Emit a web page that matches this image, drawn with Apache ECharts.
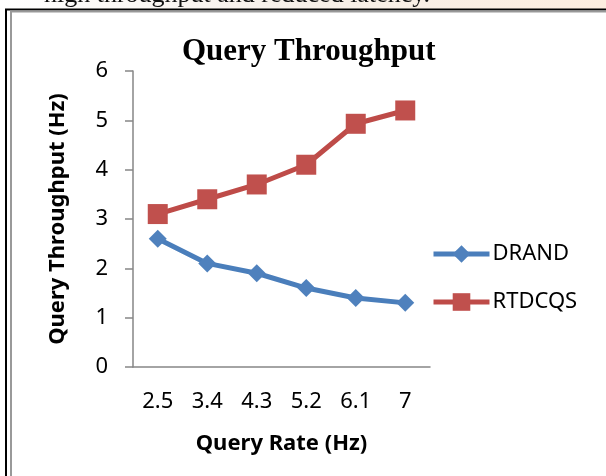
<!DOCTYPE html>
<html>
<head>
<meta charset="utf-8">
<script src="https://cdn.jsdelivr.net/npm/echarts@6/dist/echarts.min.js"></script>
<style>
  html, body { margin: 0; padding: 0; background: #fff; }
  #chart { width: 606px; height: 476px; }
</style>
</head>
<body>
<div id="chart"></div>
<script>
const categories = ['2.5', '3.4', '4.3', '5.2', '6.1', '7']
const drand = [2.6, 2.1, 1.9, 1.6, 1.4, 1.3]
const rtdcqs = [3.1, 3.4, 3.7, 4.1, 4.93, 5.2]

const labelFont = 'Noto Sans'
const myChart = echarts.init(document.getElementById('chart'))
myChart.setOption({
  animation: false,
  backgroundColor: '#fff',
  // page fragment above the chart box
  graphic: [
    {
      type: 'rect',
      z: -10,
      shape: { x: 0, y: 0, width: 606, height: 12 },
      style: {
        fill: {
          type: 'linear', x: 0, y: 0, x2: 1, y2: 0,
          colorStops: [
            { offset: 0, color: '#ffffff' },
            { offset: 0.5, color: '#f6efe8' },
            { offset: 1, color: '#fdeee0' },
          ],
        },
      },
    },
    {
      type: 'text',
      z: -9,
      left: 44,
      top: -18,
      style: {
        text: 'high throughput and reduced latency.',
        font: '26px "Liberation Serif", serif',
        fill: '#111',
      },
    },
    {
      type: 'rect',
      z: -8,
      shape: { x: 0, y: 10, width: 606, height: 466 },
      style: { fill: '#fff' },
    },
    // double frame line
    {
      type: 'polyline',
      z: -7,
      shape: { points: [[6, 476], [6, 9.5], [606, 9.5]] },
      style: { stroke: '#000', lineWidth: 2, fill: null },
    },
    {
      type: 'polyline',
      z: -7,
      shape: { points: [[11, 476], [11, 11.5], [606, 11.5]] },
      style: { stroke: '#999', lineWidth: 2, fill: null },
    },
  ],
  title: {
    text: 'Query Throughput',
    left: 182,
    top: 36,
    padding: 0,
    textStyle: {
      fontFamily: '"Liberation Serif", serif',
      fontWeight: 'bold',
      fontSize: 31,
      color: '#000',
    },
  },
  legend: {
    orient: 'vertical',
    left: 426,
    top: 238,
    itemWidth: 56,
    itemHeight: 22,
    itemGap: 26,
    lineStyle: { width: 5 },
    textStyle: { fontFamily: labelFont, fontSize: 22, color: '#000', padding: [0, 0, 0, -2] },
    data: ['DRAND', 'RTDCQS'],
  },
  grid: { left: 133, right: 176, top: 71, bottom: 109 },
  xAxis: {
    type: 'category',
    data: categories,
    boundaryGap: true,
    name: 'Query Rate (Hz)',
    nameLocation: 'middle',
    nameGap: 66,
    nameTextStyle: { fontFamily: labelFont, fontWeight: 'bold', fontSize: 22, color: '#000' },
    axisLine: { lineStyle: { color: '#868686', width: 1.5 } },
    axisTick: { show: false },
    axisLabel: { margin: 24, fontFamily: labelFont, fontSize: 22, color: '#000' },
  },
  yAxis: {
    type: 'value',
    min: 0,
    max: 6,
    interval: 1,
    name: 'Query Throughput (Hz)',
    nameLocation: 'middle',
    nameGap: 64,
    nameTextStyle: { fontFamily: labelFont, fontWeight: 'bold', fontSize: 22, color: '#000' },
    axisLine: { show: true, lineStyle: { color: '#868686', width: 1.5 } },
    axisTick: { show: true, length: 8, lineStyle: { color: '#868686', width: 1.5 } },
    splitLine: { show: false },
    axisLabel: { margin: 25, fontFamily: labelFont, fontSize: 22, color: '#000' },
  },
  series: [
    {
      name: 'DRAND',
      type: 'line',
      data: drand,
      symbol: 'diamond',
      symbolSize: 18,
      lineStyle: { color: '#4a7ebb', width: 5 },
      itemStyle: { color: '#4f81bd' },
    },
    {
      name: 'RTDCQS',
      type: 'line',
      data: rtdcqs,
      symbol: 'rect',
      symbolSize: 20,
      lineStyle: { color: '#be4b48', width: 5 },
      itemStyle: { color: '#c0504d' },
    },
  ],
})
</script>
</body>
</html>
